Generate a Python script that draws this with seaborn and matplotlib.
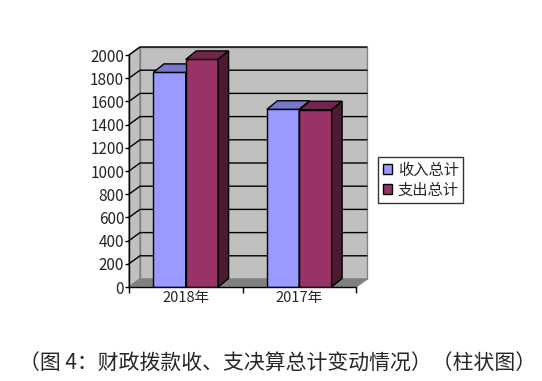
import numpy as np
import pandas as pd
import matplotlib
matplotlib.use("Agg")
import matplotlib.pyplot as plt
import seaborn as sns
from matplotlib.patches import Polygon, Patch

## data
years = ["2018年", "2017年"]
series = ["收入总计", "支出总计"]
income = [1850, 1532]
expense = [1962, 1528]
yticks = list(range(0, 2001, 200))

front_colors = ["#9999FF", "#993366"]
top_colors = ["#7777CC", "#73264D"]
side_colors = ["#5C5C99", "#4C1A33"]

df = pd.DataFrame({
    "year": years * 2,
    "series": [series[0]] * len(years) + [series[1]] * len(years),
    "value": income + expense,
})

sns.set_style("white")
plt.rcParams["font.family"] = ["Noto Sans CJK SC", "DejaVu Sans"]

W, H = 542, 381
fig = plt.figure(figsize=(W / 100, H / 100), dpi=100)
ax = fig.add_axes([129 / W, 94 / H, 227 / W, 232 / H])
ax.set_xlim(-0.5, 1.5)
ax.set_ylim(0, 2000)
ax.patch.set_alpha(0)

# depth of the fake 3d box, in data units
ddx = 11 / 227 * 2
ddy = 8 / 232 * 2000
bdx = 10.5 / 227 * 2
bdy = 8.5 / 232 * 2000

x0, x1 = ax.get_xlim()
y1 = ax.get_ylim()[1]
wall = dict(clip_on=False, zorder=0.5, linewidth=1)
ax.add_patch(Polygon([(x0 + ddx, ddy), (x1 + ddx, ddy), (x1 + ddx, y1 + ddy), (x0 + ddx, y1 + ddy)],
                     facecolor="#C0C0C0", edgecolor="#808080", **wall))
ax.add_patch(Polygon([(x0, 0), (x0, y1), (x0 + ddx, y1 + ddy), (x0 + ddx, ddy)],
                     facecolor="#C0C0C0", edgecolor="#808080", **wall))
ax.add_patch(Polygon([(x0, 0), (x1, 0), (x1 + ddx, ddy), (x0 + ddx, ddy)],
                     facecolor="#808080", edgecolor="#808080", **wall))
for t in yticks[1:]:
    ax.plot([x0, x0 + ddx, x1 + ddx], [t, t + ddy, t + ddy], color="black",
            lw=1, clip_on=False, zorder=0.8)

sns.barplot(data=df, x="year", y="value", hue="series", palette=front_colors,
            width=0.57, gap=0, edgecolor="black", linewidth=1, ax=ax,
            legend=False, saturation=1)

# tops and sides of the bars
for p in list(ax.patches):
    if not hasattr(p, "get_x") or p.get_height() <= 0:
        continue
    bx, bw, bh = p.get_x(), p.get_width(), p.get_height()
    k = 0 if bx + bw / 2 < round(bx + bw / 2) else 1
    z = 3 + 2 * k
    p.set_zorder(z)
    ax.add_patch(Polygon([(bx, bh), (bx + bw, bh), (bx + bw + bdx, bh + bdy), (bx + bdx, bh + bdy)],
                         facecolor=top_colors[k], edgecolor="black", lw=1, clip_on=False, zorder=z))
    ax.add_patch(Polygon([(bx + bw, 0), (bx + bw, bh), (bx + bw + bdx, bh + bdy), (bx + bw + bdx, bdy)],
                         facecolor=side_colors[k], edgecolor="black", lw=1, clip_on=False, zorder=z))

ax.set_xlabel("")
ax.set_ylabel("")
ax.set_yticks(yticks)
ax.set_yticklabels([str(t) for t in yticks], fontsize=11)
ax.set_xticks(range(len(years)))
ax.set_xticklabels(years, fontsize=10.5)
ax.set_xticks([-0.5, 0.5, 1.5], minor=True)
ax.tick_params(axis="y", length=3, width=1, pad=0.5, color="black", left=True)
ax.tick_params(axis="x", which="major", length=0, pad=3)
ax.tick_params(axis="x", which="minor", length=4, width=1, color="black", bottom=True)
for s in ["top", "right"]:
    ax.spines[s].set_visible(False)
for s in ["left", "bottom"]:
    ax.spines[s].set_color("black")
    ax.spines[s].set_linewidth(1)
    ax.spines[s].set_zorder(6)

handles = [Patch(facecolor=c, edgecolor="black", lw=1) for c in front_colors]
leg = fig.legend(handles, series, loc="upper left", bbox_to_anchor=(378 / W, 1 - 157 / H),
                 frameon=True, fancybox=False, edgecolor="black", fontsize=11,
                 handlelength=0.6, handleheight=0.6, handletextpad=0.4,
                 borderpad=0.3, labelspacing=0.2, borderaxespad=0)
leg.get_frame().set_linewidth(1)

fig.text(277.5 / W, 1 - 364 / H, "（图 4：财政拨款收、支决算总计变动情况）（柱状图）",
         ha="center", va="center", fontsize=15)

plt.savefig("out.png", dpi=100)
